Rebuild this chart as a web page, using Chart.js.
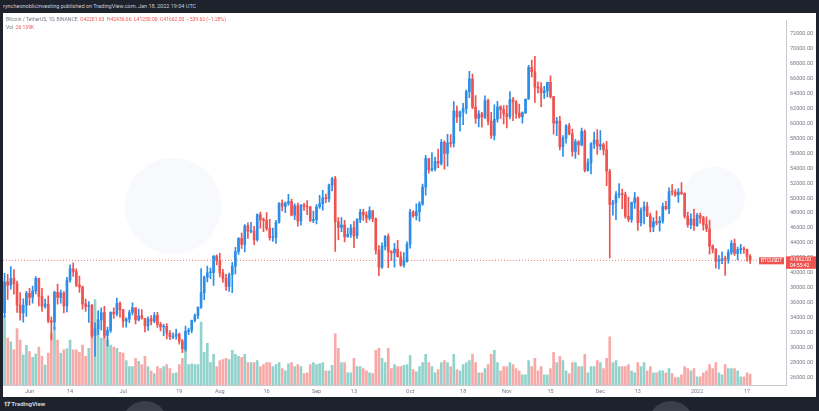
<!DOCTYPE html>
<html>
<head>
<meta charset="utf-8">
<script src="https://cdn.jsdelivr.net/npm/chart.js@4/dist/chart.umd.min.js"></script>
<style>
  html, body { margin: 0; padding: 0; }
  body { width: 819px; height: 411px; background: #1e222d; position: relative; overflow: hidden; font-family: Roboto, "Noto Sans", sans-serif; }
  #topbar { position: absolute; left: 3px; top: 3px; font-size: 5.5px; color: #c9ccd4; white-space: nowrap; }
  #panel { position: absolute; left: 3px; top: 13px; width: 813px; height: 384px; background: #fff; overflow: hidden; }
  .wm { position: absolute; border-radius: 50%; background: #f8f9fc; }
  #chartBox { position: absolute; left: 0; top: 0; width: 813px; height: 384px; }
  #legend { position: absolute; left: 3px; top: 3px; font-size: 5px; line-height: 7.5px; color: #787b86; white-space: nowrap; }
  #legend .r { color: #ef5350; }
  #brand { position: absolute; left: 4px; top: 400px; font-size: 6px; font-weight: bold; color: #d1d4dc; white-space: nowrap; }
  .blob { position: absolute; width: 46px; height: 46px; border-radius: 50%; background: #3b3f49; }
</style>
</head>
<body>
<div id="topbar">ryncheonoblicinvesting published on TradingView.com, Jan 18, 2022 19:04 UTC</div>
<div id="panel">
  <div class="wm" style="left:122px; top:145px; width:96px; height:96px;"></div>
  <div class="wm" style="left:680px; top:154px; width:62px; height:62px;"></div>
  <div id="chartBox"><canvas id="btc"></canvas></div>
  <div id="legend">
    <div>Bitcoin / TetherUS, 1D, BINANCE&nbsp;&nbsp;<span class="r">O42201.63&nbsp; H42436.66&nbsp; L41250.00&nbsp; C41662.00&nbsp; −539.62 (−1.28%)</span></div>
    <div>Vol&nbsp; <span class="r">26.139K</span></div>
  </div>
</div>
<div class="blob" style="left:122px; top:401px;"></div>
<div class="blob" style="left:648px; top:401px;"></div>
<div id="brand">𝟏𝟕 TradingView</div>

<script>
// BTCUSDT daily candles, 24 May 2021 (day 0) .. 18 Jan 2022 (day 239)
const firstOpen = 34655

const closes = [
  // May
  38796, 38324, 39241, 38529, 35663, 34605, 35641, 37253,
  // Jun
  36693, 37568, 39246, 36829, 35514, 35796, 33552, 33380, 37388, 36675,
  37313, 35546, 39020, 40516, 40144, 38349, 38092, 35819, 35483, 35600,
  31608, 32509, 33678, 34663, 31584, 32283, 34700, 34494, 35911, 35045,
  // Jul
  33504, 33786, 34669, 35287, 33690, 34220, 33862, 32875, 33815, 33502,
  34258, 33086, 32729, 32820, 31880, 31383, 31520, 31778, 30839, 29790,
  32144, 32287, 33634, 34258, 35381, 37337, 39406, 39995, 40008, 42235,
  41626,
  // Aug
  39974, 39201, 38152, 39747, 40869, 42836, 44614, 43792, 46285, 45543,
  45595, 44428, 47793, 47096, 47019, 45936, 44686, 44741, 46763, 49339,
  48905, 49321, 49546, 47706, 48960, 46942, 49058, 48902, 48807, 46991,
  47130,
  // Sep
  48847, 49270, 50026, 49944, 51753, 52633, 46811, 46091, 46391, 44843,
  45162, 46026, 44940, 47111, 48121, 47737, 47299, 48292, 47241, 43015,
  40734, 43543, 44865, 42811, 42670, 43160, 42147, 41026, 41524, 43824,
  // Oct
  48141, 47634, 48200, 49224, 51471, 55315, 53785, 53951, 54949, 54659,
  57471, 56005, 57367, 57347, 61672, 60875, 61528, 62009, 64280, 66001,
  62193, 60688, 61286, 60852, 63078, 60328, 58413, 60575, 62254, 61859,
  61300,
  // Nov
  60911, 63219, 62896, 61395, 60937, 61470, 63273, 67525, 66947, 64882,
  64774, 64122, 64380, 65519, 63606, 60058, 60344, 56891, 58052, 59707,
  58622, 56247, 57541, 57138, 58960, 53726, 54721, 57274, 57776, 56950,
  // Dec
  57184, 56480, 53601, 49152, 49396, 50441, 50588, 50471, 47545, 47140,
  49389, 50053, 46702, 48343, 48864, 47632, 46131, 46834, 46681, 46914,
  48889, 48588, 50838, 50821, 50429, 50809, 50640, 47588, 46444, 47178,
  46306,
  // Jan
  47686, 47345, 46458, 45897, 43569, 43160, 41557, 41733, 41911, 41821,
  42735, 43949, 42591, 43099, 43177, 43113, 42201, 41662,
]

const highs = [
  39920, 39791, 40841, 40412, 38877, 37338, 36488, 37499,
  37894, 38225, 39476, 39289, 37925, 36477, 36900, 34069, 37534, 38491,
  37680, 37463, 39380, 41064, 41330, 40528, 39559, 38202, 36457, 36137,
  35750, 33298, 34881, 35298, 35500, 32730, 34749, 35297, 36600, 36100,
  35057, 33977, 34945, 35967, 35293, 35118, 35059, 33900, 34100, 34262,
  34666, 34679, 33340, 33114, 33185, 32249, 31935, 32435, 31899, 31063,
  32858, 32591, 33650, 34500, 35398, 40550, 39542, 40900, 40640, 42316,
  42414,
  42599, 40459, 39780, 39969, 41350, 43392, 44700, 45310, 46454, 46700,
  46743, 46218, 47886, 48144, 47372, 48053, 47160, 46000, 47033, 49382,
  49757, 49500, 50500, 49875, 49237, 49340, 49149, 49309, 49667, 48908,
  48250,
  49135, 50392, 51056, 50558, 51900, 52780, 52920, 47381, 47400, 47033,
  45987, 46460, 46879, 47250, 48500, 48500, 48150, 48843, 48372, 47347,
  43639, 44000, 44978, 45200, 42966, 43950, 44350, 42787, 42690, 44132,
  48495, 48336, 49228, 49536, 51886, 55750, 55332, 56100, 55490, 56561,
  57839, 57680, 58550, 58532, 62933, 62378, 61700, 62695, 64486, 67000,
  66639, 63732, 61747, 61500, 63710, 63293, 61496, 62499, 62980, 62359,
  62405,
  62437, 64270, 63500, 63086, 62595, 61560, 63286, 67789, 68524, 69000,
  65600, 65500, 65000, 65550, 66401, 63617, 60840, 60976, 58372, 59845,
  60029, 59266, 57875, 57700, 59398, 59150, 55280, 57445, 58865, 59176,
  59053, 57375, 57600, 53859, 49699, 50891, 51936, 51200, 50797, 50125,
  49485, 50777, 50189, 48700, 49500, 49436, 47995, 47392, 48300, 47537,
  49328, 49576, 51375, 51810, 51156, 51280, 52088, 50704, 48139, 47900,
  48548,
  47954, 47990, 47570, 47505, 47070, 43748, 43200, 42300, 42786, 42248,
  43100, 44322, 44500, 43448, 43800, 43480, 43180, 42436.66,
]

const lows = [
  34031, 36420, 37800, 37134, 34684, 33632, 33379, 34154,
  35667, 35921, 37170, 35555, 34800, 35258, 33300, 31000, 32396, 35782,
  35936, 34600, 34757, 38730, 39506, 38116, 37365, 35129, 34803, 33336,
  31251, 28805, 31683, 32286, 31275, 30151, 32000, 33862, 34225, 34017,
  32711, 32699, 33316, 34357, 33125, 33532, 33777, 32077, 32261, 33004,
  33306, 32659, 32202, 31550, 31133, 31020, 31164, 31108, 30407, 29278,
  29482, 31708, 31924, 33401, 33851, 35205, 36383, 38772, 39200, 38313,
  41064,
  39422, 38690, 37642, 37508, 37332, 39853, 42446, 43261, 42779, 44589,
  45341, 43770, 44217, 45971, 45500, 45660, 44376, 44203, 43927, 46631,
  48285, 48050, 49030, 47600, 47100, 46251, 46360, 48370, 47800, 46853,
  46700,
  46537, 48630, 48400, 49400, 49500, 50969, 42843, 44412, 45513, 44134,
  44722, 44742, 43370, 44594, 46700, 47020, 46700, 47035, 46829, 42500,
  39600, 40565, 43063, 40675, 41646, 40750, 42098, 40888, 40745, 41410,
  43283, 47430, 47088, 46891, 49022, 50382, 53357, 53617, 53661, 54080,
  54415, 53879, 54300, 56818, 56850, 60150, 58963, 59844, 61322, 63481,
  62000, 60000, 59562, 59510, 60650, 59817, 58000, 57820, 60174, 60673,
  59945,
  59405, 60624, 60382, 60677, 60721, 60050, 61322, 63273, 66222, 62822,
  64100, 62278, 63360, 63576, 63400, 58574, 58373, 56474, 55600, 57353,
  58486, 55610, 55317, 55837, 57000, 53500, 53610, 53256, 56666, 55875,
  56458, 55777, 51680, 42000, 47727, 47100, 50039, 48600, 47320, 46852,
  46751, 48638, 45672, 46290, 46547, 47511, 45456, 45500, 46406, 45558,
  46630, 48421, 47920, 50400, 50236, 49412, 50449, 47313, 46096, 45900,
  45678,
  46208, 46654, 45696, 45502, 42500, 42645, 40610, 40501, 41200, 39650,
  41268, 42450, 42311, 41725, 42568, 42578, 41540, 41250,
]

// volume in thousands of BTC
const volumes = [
  170, 115, 106, 86, 138, 110, 74, 97,
  82, 68, 76, 93, 70, 49, 78, 126, 142, 110,
  78, 86, 89, 110, 86, 86, 80, 98, 70, 90,
  154, 209, 146, 115, 126, 110, 98, 93, 90, 80,
  78, 60, 45, 45, 65, 58, 50, 70, 45, 35,
  28, 45, 40, 45, 50, 40, 28, 30, 50, 65,
  90, 50, 52, 50, 50, 154, 80, 102, 55, 75,
  45,
  60, 62, 65, 62, 85, 75, 70, 68, 75, 55,
  55, 55, 60, 45, 50, 55, 55, 45, 50, 55,
  40, 35, 52, 55, 45, 50, 45, 28, 30, 50,
  55,
  50, 52, 55, 35, 35, 48, 125, 90, 55, 55,
  30, 30, 65, 45, 45, 40, 35, 30, 28, 85,
  90, 65, 55, 90, 40, 50, 45, 45, 48, 50,
  72, 38, 32, 45, 55, 75, 55, 45, 30, 38,
  55, 60, 55, 45, 75, 38, 35, 50, 55, 60,
  75, 55, 30, 30, 40, 50, 75, 85, 55, 35,
  45,
  45, 55, 50, 40, 35, 25, 25, 60, 45, 65,
  35, 45, 25, 25, 40, 80, 55, 70, 60, 35,
  28, 55, 55, 45, 45, 75, 30, 45, 45, 60,
  55, 40, 65, 118, 55, 60, 45, 45, 45, 50,
  35, 30, 55, 45, 55, 35, 45, 30, 30, 35,
  35, 30, 40, 28, 18, 18, 25, 45, 40, 35,
  40,
  20, 20, 30, 35, 50, 40, 55, 30, 25, 50,
  40, 40, 40, 35, 20, 20, 30, 26.139,
]

const priceTicks = [26000, 28000, 30000, 32000, 34000, 36000, 38000, 40000, 42000, 44000, 46000, 48000,
  50000, 52000, 54000, 56000, 58000, 60000, 62000, 64000, 66000, 68000, 70000, 72000]
const timeTickDays = [8, 21, 38, 56, 69, 84, 100, 112, 130, 147, 161, 175, 191, 203, 222, 238]
const timeTickLabels = ["Jun", "14", "Jul", "19", "Aug", "16", "Sep", "13", "Oct", "18", "Nov", "15", "Dec", "13", "2022", "17"]

// daily crypto candles open at the previous close
const opens = [firstOpen, ...closes.slice(0, -1)]

const UP = "#2d8ee8"
const DOWN = "#ef5350"
const VOL_UP = "#92d2cc"
const VOL_DOWN = "#f7a9a7"
const isUp = (i) => closes[i] >= opens[i]

const wicks = closes.map((c, i) => ({ x: i, y: [lows[i], highs[i]] }))
const bodies = closes.map((c, i) => ({ x: i, y: [opens[i], c] }))
const vols = volumes.map((v, i) => ({ x: i, y: v }))

const tickFont = { family: "Roboto", size: 5.5 }

// dotted last-price line with its tags on the price axis
const lastPriceTag = {
  id: "lastPriceTag",
  afterDraw(chart) {
    const { ctx, chartArea, scales } = chart
    const last = closes[closes.length - 1]
    const py = scales.y.getPixelForValue(last)
    ctx.save()
    ctx.strokeStyle = DOWN
    ctx.lineWidth = 0.8
    ctx.setLineDash([1, 2])
    ctx.beginPath()
    ctx.moveTo(chartArea.left, py)
    ctx.lineTo(chartArea.right, py)
    ctx.stroke()
    ctx.setLineDash([])
    ctx.fillStyle = DOWN
    ctx.fillRect(chartArea.right, py - 4, 30, 12.5)
    ctx.fillRect(chartArea.right - 27, py - 3, 25, 7)
    ctx.fillStyle = "#fff"
    ctx.font = "5px Roboto"
    ctx.textBaseline = "middle"
    ctx.fillText(last.toFixed(2), chartArea.right + 4, py - 0.5)
    ctx.fillText("04:55:42", chartArea.right + 4, py + 5.5)
    ctx.textAlign = "center"
    ctx.fillText("BTCUSDT", chartArea.right - 14.5, py + 0.5)
    ctx.restore()
  },
}

new Chart(document.getElementById("btc"), {
  type: "bar",
  data: {
    datasets: [
      {
        label: "body",
        data: bodies,
        backgroundColor: (ctx) => (isUp(ctx.dataIndex) ? UP : DOWN),
        barThickness: 2,
        minBarLength: 1,
        grouped: false,
        order: 0,
      },
      {
        label: "wick",
        data: wicks,
        backgroundColor: (ctx) => (isUp(ctx.dataIndex) ? UP : DOWN),
        barThickness: 1,
        grouped: false,
        order: 1,
      },
      {
        label: "volume",
        data: vols,
        yAxisID: "vol",
        backgroundColor: (ctx) => (isUp(ctx.dataIndex) ? VOL_UP : VOL_DOWN),
        barThickness: 2,
        grouped: false,
        order: 2,
      },
    ],
  },
  options: {
    responsive: true,
    maintainAspectRatio: false,
    animation: false,
    layout: { padding: 0 },
    plugins: { legend: { display: false }, tooltip: { enabled: false } },
    scales: {
      x: {
        type: "linear",
        min: -0.5,
        max: 250.5,
        offset: false,
        grid: { display: false, drawTicks: false },
        border: { display: true, color: "#c8cad0" },
        ticks: {
          autoSkip: false,
          maxRotation: 0,
          padding: 3,
          color: "#787b86",
          font: tickFont,
          callback: (v) => timeTickLabels[timeTickDays.indexOf(v)] ?? "",
        },
        afterBuildTicks: (s) => { s.ticks = timeTickDays.map((d) => ({ value: d })) },
        afterFit: (s) => { s.height = 12 },
      },
      y: {
        position: "right",
        min: 24950,
        max: 73840,
        grid: { display: false, drawTicks: false },
        border: { display: true, color: "#c8cad0" },
        ticks: {
          autoSkip: false,
          padding: 4,
          color: "#787b86",
          font: tickFont,
          callback: (v) => v.toFixed(2),
        },
        afterBuildTicks: (s) => { s.ticks = priceTicks.map((p) => ({ value: p })) },
        afterFit: (s) => { s.width = 30 },
      },
      vol: {
        display: false,
        min: 0,
        max: 893,
      },
    },
  },
  plugins: [lastPriceTag],
})
</script>
</body>
</html>
